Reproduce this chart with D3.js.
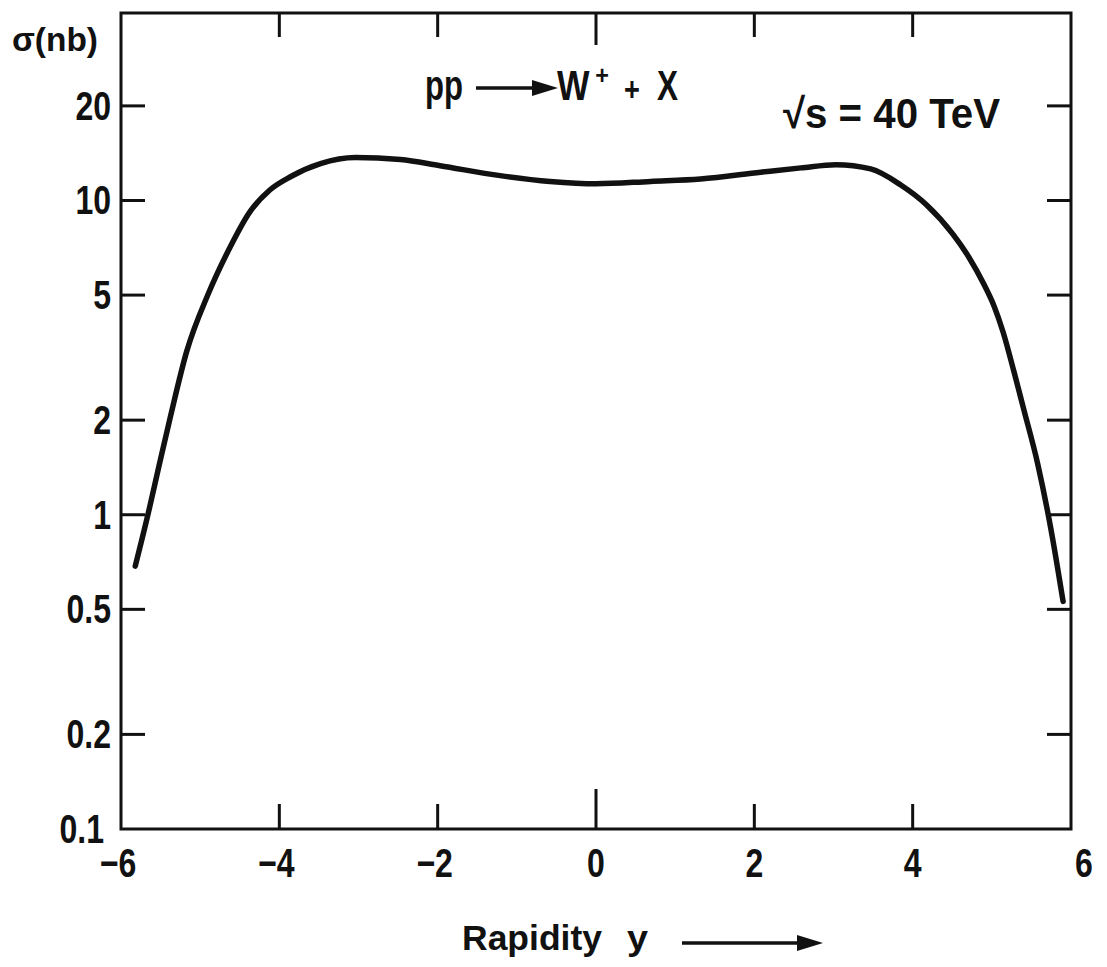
<!DOCTYPE html>
<html>
<head>
<meta charset="utf-8">
<script src="https://cdn.jsdelivr.net/npm/d3@7"></script>
<style>
  html, body { margin: 0; padding: 0; background: #fff; }
  svg { display: block; }
  text { font-family: "Liberation Sans", Arial, "DejaVu Sans", sans-serif; font-weight: bold; fill: #111; }
</style>
</head>
<body>
<svg id="chart" width="1107" height="967"></svg>
<script>
// ---- data ----
const rapidity = [-5.82, -5.66, -5.52, -5.38, -5.17, -4.90, -4.65, -4.37, -4.12, -3.86, -3.48, -3.04, -2.47, -1.97, -1.21, -0.58, 0.00, 0.69, 1.32, 2.08, 2.59, 3.03, 3.47, 3.85, 4.17, 4.51, 4.71, 4.90, 5.03, 5.14, 5.28, 5.40, 5.58, 5.75, 5.90];
const sigma    = [0.686, 1.00, 1.43, 2.03, 3.31, 5.03, 6.88, 9.22, 10.8, 11.9, 13.1, 13.7, 13.5, 12.9, 12.0, 11.5, 11.3, 11.5, 11.7, 12.3, 12.7, 13.0, 12.6, 11.2, 9.71, 7.80, 6.60, 5.41, 4.60, 3.83, 2.85, 2.18, 1.45, 0.89, 0.53];
const xTicks = [-6, -4, -2, 0, 2, 4, 6];
const xTickLabels = ["\u22126", "\u22124", "\u22122", "0", "2", "4", "6"];
const yTicks = [0.1, 0.2, 0.5, 1, 2, 5, 10, 20];
const yTickLabels = ["0.1", "0.2", "0.5", "1", "2", "5", "10", "20"];

(function () {
const svg = d3.select("#chart");
const pL = 121, pR = 1071, pT = 13, pB = 829;

const x = d3.scaleLinear().domain([-6, 6]).range([pL, pR]);
const y = d3.scaleLog().domain([0.1, 39.5]).range([pB, pT]);

const ink = "#111";

// helper: horizontally condensed text
function ctext(parent, tx, ty, str, size, anchor, sx) {
  return parent.append("text")
    .attr("transform", `translate(${tx},${ty}) scale(${sx},1)`)
    .attr("text-anchor", anchor)
    .attr("font-size", size)
    .text(str);
}

// frame
svg.append("rect")
  .attr("x", pL).attr("y", pT)
  .attr("width", pR - pL).attr("height", pB - pT)
  .attr("fill", "none").attr("stroke", ink).attr("stroke-width", 3);

// x ticks (inner ticks on bottom and top)
const inner = xTicks.filter(t => t > -6 && t < 6);
svg.append("g").selectAll("line").data(inner).join("line")
  .attr("x1", d => x(d)).attr("x2", d => x(d))
  .attr("y1", pB).attr("y2", d => pB - (d === 0 ? 40 : 25))
  .attr("stroke", ink).attr("stroke-width", 3);
svg.append("g").selectAll("line").data(inner).join("line")
  .attr("x1", d => x(d)).attr("x2", d => x(d))
  .attr("y1", pT).attr("y2", d => pT + (d === 0 ? 32 : 24))
  .attr("stroke", ink).attr("stroke-width", 3);

// y ticks (inner ticks on left and right)
const yInner = yTicks.filter(t => t > 0.1);
svg.append("g").selectAll("line").data(yInner).join("line")
  .attr("x1", pL).attr("x2", pL + 24)
  .attr("y1", d => y(d)).attr("y2", d => y(d))
  .attr("stroke", ink).attr("stroke-width", 3);
svg.append("g").selectAll("line").data(yInner).join("line")
  .attr("x1", pR).attr("x2", pR - 24)
  .attr("y1", d => y(d)).attr("y2", d => y(d))
  .attr("stroke", ink).attr("stroke-width", 3);

// x tick labels
const gx = svg.append("g");
xTicks.forEach((d, i) => {
  ctext(gx, x(d) + (d === 6 ? 13 : (d < 0 ? -3 : 0)), 877, xTickLabels[i], 40, "middle", 0.8);
});

// y tick labels
const gy = svg.append("g");
yTicks.forEach((d, i) => {
  ctext(gy, pL - (d === 0.1 ? 17 : 10), y(d) + 14, yTickLabels[i], 40, "end", 0.8);
});

// y axis title
svg.append("text").attr("x", 12).attr("y", 51).attr("font-size", 33)
  .attr("textLength", 86).attr("lengthAdjust", "spacingAndGlyphs").text("σ(nb)");

// curve
const line = d3.line()
  .x((d, i) => x(rapidity[i]))
  .y((d, i) => y(sigma[i]))
  .curve(d3.curveMonotoneX);
svg.append("path")
  .attr("d", line(rapidity))
  .attr("fill", "none").attr("stroke", ink)
  .attr("stroke-width", 5.5).attr("stroke-linecap", "round")
  .attr("stroke-linejoin", "round");

// process label: pp ---> W+ + X
svg.append("text").attr("x", 425).attr("y", 100).attr("font-size", 42)
  .attr("textLength", 38).attr("lengthAdjust", "spacingAndGlyphs").text("pp");
svg.append("line").attr("x1", 476).attr("x2", 540).attr("y1", 88).attr("y2", 88)
  .attr("stroke", ink).attr("stroke-width", 3.5);
svg.append("path").attr("d", "M532,80 L558,88 L532,96 Z").attr("fill", ink);
ctext(svg, 557, 100, "W", 43, "start", 0.8);
ctext(svg, 602, 84, "+", 26, "middle", 0.9);
ctext(svg, 632, 101, "+", 34, "middle", 0.8);
ctext(svg, 657, 100, "X", 42, "start", 0.75);

// energy label
svg.append("text").attr("x", 783).attr("y", 128).attr("font-size", 42)
  .attr("textLength", 217).attr("lengthAdjust", "spacingAndGlyphs").text("\u221As = 40 TeV");

// x axis title with arrow
svg.append("text").attr("x", 462).attr("y", 950).attr("font-size", 35)
  .attr("textLength", 140).attr("lengthAdjust", "spacingAndGlyphs").text("Rapidity");
svg.append("text").attr("x", 627).attr("y", 950).attr("font-size", 35)
  .attr("textLength", 21).attr("lengthAdjust", "spacingAndGlyphs").text("y");
svg.append("line").attr("x1", 682).attr("x2", 806).attr("y1", 943).attr("y2", 943)
  .attr("stroke", ink).attr("stroke-width", 3.5);
svg.append("path").attr("d", "M797,935 L823,943 L797,951 Z").attr("fill", ink);
})();
</script>
</body>
</html>
